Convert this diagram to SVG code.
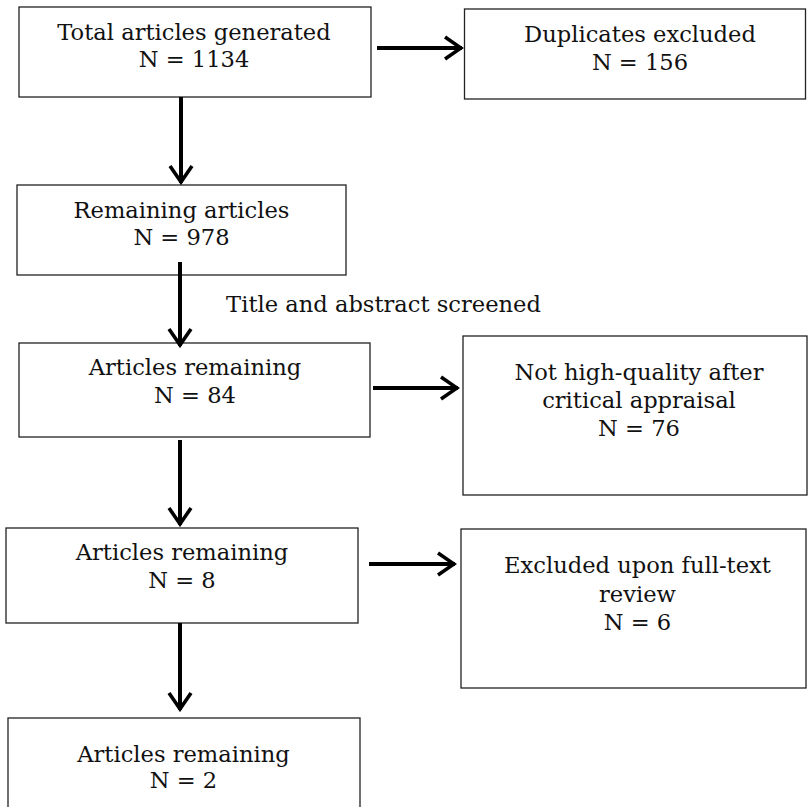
<svg xmlns="http://www.w3.org/2000/svg" width="809" height="807" viewBox="0 0 809 807">
<style>
.box{fill:#fff;stroke:#222;stroke-width:1.3}
.t{font-family:"DejaVu Serif","Liberation Serif",serif;font-size:22.6px;fill:#111;text-anchor:middle}
.c{stroke:#000;stroke-width:4;fill:none}
</style>
<defs>
<marker id="ah" viewBox="0 0 22 26" refX="20" refY="13" markerWidth="22" markerHeight="26" markerUnits="userSpaceOnUse" orient="auto">
<path d="M3,2 L19,13 L3,24" fill="none" stroke="#000" stroke-width="3.6"/>
</marker>
</defs>
<rect width="809" height="807" fill="#fff"/>
<g id="n1"><rect class="box" x="19" y="7" width="352" height="90"/>
<text class="t" x="194" y="40">Total articles generated</text><text class="t" x="194" y="67">N = 1134</text></g>
<g id="n2"><rect class="box" x="464.5" y="9" width="341" height="90"/>
<text class="t" x="640" y="42">Duplicates excluded</text><text class="t" x="640" y="70">N = 156</text></g>
<g id="n3"><rect class="box" x="17" y="185" width="329" height="90"/>
<text class="t" x="181.5" y="218">Remaining articles</text><text class="t" x="181.5" y="245">N = 978</text></g>
<g id="n4"><rect class="box" x="19" y="343" width="351" height="94"/>
<text class="t" x="195" y="375">Articles remaining</text><text class="t" x="195" y="403">N = 84</text></g>
<g id="n5"><rect class="box" x="463" y="336" width="344" height="159"/>
<text class="t" x="639" y="380">Not high-quality after</text><text class="t" x="639" y="408">critical appraisal</text><text class="t" x="639" y="436">N = 76</text></g>
<g id="n6"><rect class="box" x="6" y="528" width="352" height="95"/>
<text class="t" x="182" y="560">Articles remaining</text><text class="t" x="182" y="588">N = 8</text></g>
<g id="n7"><rect class="box" x="461" y="529" width="345" height="159"/>
<text class="t" x="637.5" y="573">Excluded upon full-text</text><text class="t" x="637.5" y="602">review</text><text class="t" x="637.5" y="630">N = 6</text></g>
<g id="n8"><rect class="box" x="8" y="718" width="352" height="100"/>
<text class="t" x="183.5" y="762">Articles remaining</text><text class="t" x="183.5" y="788">N = 2</text></g>
<g id="connectors">
<line class="c" x1="377" y1="48" x2="462" y2="48" marker-end="url(#ah)"/>
<line class="c" x1="181" y1="97" x2="181" y2="183" marker-end="url(#ah)"/>
<line class="c" x1="180" y1="262" x2="180" y2="346" marker-end="url(#ah)"/>
<line class="c" x1="373" y1="388" x2="458" y2="388" marker-end="url(#ah)"/>
<line class="c" x1="180" y1="440" x2="180" y2="525" marker-end="url(#ah)"/>
<line class="c" x1="369" y1="564" x2="455" y2="564" marker-end="url(#ah)"/>
<line class="c" x1="180" y1="623" x2="180" y2="710" marker-end="url(#ah)"/>
<text class="t" x="383.5" y="312">Title and abstract screened</text>
</g>
</svg>
